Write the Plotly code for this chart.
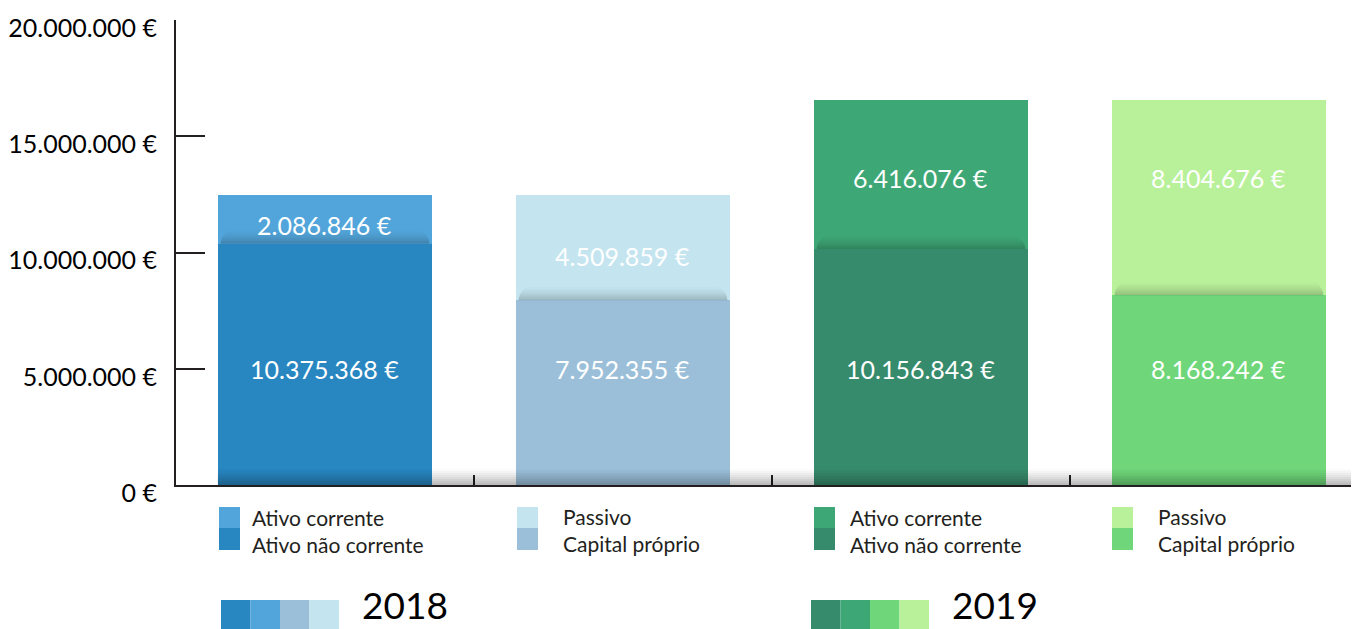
import plotly.graph_objects as go

# ---------------- data ----------------
categories = ["Ativo 2018", "Passivo + Capital 2018", "Ativo 2019", "Passivo + Capital 2019"]
lower_values = [10375368, 7952355, 10156843, 8168242]
upper_values = [2086846, 4509859, 6416076, 8404676]
lower_names = ["Ativo não corrente", "Capital próprio", "Ativo não corrente", "Capital próprio"]
upper_names = ["Ativo corrente", "Passivo", "Ativo corrente", "Passivo"]
years = ["2018", "2019"]
y_ticks = [0, 5000000, 10000000, 15000000, 20000000]

# ---------------- style ----------------
lower_colors = ["#2886c1", "#9bbfd9", "#378b6d", "#6fd77a"]
upper_colors = ["#52a5da", "#c4e5ef", "#3ea776", "#b9f19b"]
year_block_colors = [["#2886c1", "#52a5da", "#9bbfd9", "#c4e5ef"],
                     ["#378b6d", "#3ea776", "#6fd77a", "#b9f19b"]]
upper_label_y = [11180000, 9850000, 13200000, 13200000]
lower_label_y = [5000000] * 4
FONT = "Lato"
TXT = "#231f20"

OFF = 8  # page body margin
W, H = 1359 - OFF, 629 - OFF
L, R, T, B = 176 - OFF, 0, 20 - OFF, 144
PW, PH = W - L - R, H - T - B
XR = [-0.5, 3.47]
YMAX = 20000000


def fmt(v):
    return f"{v:,.0f}".replace(",", ".") + " €"


def px(xp):
    return (xp - 176) / PW


def py(yp):
    return (485 - yp) / PH


x = list(range(len(categories)))
BW = 0.72

fig = go.Figure()
fig.add_trace(go.Bar(x=x, y=lower_values, marker=dict(color=lower_colors, line=dict(width=0)),
                     width=BW, hoverinfo="skip", name="lower"))
fig.add_trace(go.Bar(x=x, y=upper_values, marker=dict(color=upper_colors, line=dict(width=0)),
                     width=BW, hoverinfo="skip", name="upper"))

shapes = []
annotations = []

# soft shadow above segment boundary
units_per_px = YMAX / PH
nsteps = 10
for i, b in enumerate(lower_values):
    for k in range(nsteps):
        y0 = b + k * 1.5 * units_per_px
        y1 = b + (k + 1) * 1.5 * units_per_px
        op = 0.2 * (1 - k / nsteps) ** 1.8
        inset = 0.04 * (k / nsteps) ** 2
        shapes.append(dict(type="rect", xref="x", yref="y", x0=i - BW / 2 + 0.01 + inset,
                           x1=i + BW / 2 - 0.01 - inset,
                           y0=y0, y1=y1, fillcolor="black", opacity=op, line=dict(width=0), layer="above"))

# bottom gray band
for k in range(8):
    y0 = k * 2 * units_per_px
    y1 = (k + 1) * 2 * units_per_px
    op = 0.26 * (1 - k / 8) ** 1.3
    shapes.append(dict(type="rect", xref="x", yref="y", x0=-BW / 2, x1=XR[1],
                       y0=y0, y1=y1, fillcolor="black", opacity=op, line=dict(width=0), layer="above"))

# value labels
for i in range(len(categories)):
    annotations.append(dict(x=i, y=lower_label_y[i], xref="x", yref="y", text=fmt(lower_values[i]),
                            showarrow=False, font=dict(family=FONT, size=25, color="white")))
    annotations.append(dict(x=i, y=upper_label_y[i], xref="x", yref="y", text=fmt(upper_values[i]),
                            showarrow=False, font=dict(family=FONT, size=25, color="white")))

# per-bar legends
bar_left_px = [217, 515, 812, 1110]
text_left_px = [250, 561, 848, 1156]
legend_text_y = [531, 530, 531, 530]
for i in range(len(categories)):
    xl = bar_left_px[i] + 2
    shapes.append(dict(type="rect", xref="paper", yref="paper", x0=px(xl), x1=px(xl + 21),
                       y0=py(528), y1=py(507), fillcolor=upper_colors[i], line=dict(width=0)))
    shapes.append(dict(type="rect", xref="paper", yref="paper", x0=px(xl), x1=px(xl + 21),
                       y0=py(550), y1=py(528), fillcolor=lower_colors[i], line=dict(width=0)))
    annotations.append(dict(x=px(text_left_px[i]), y=py(legend_text_y[i]), xref="paper", yref="paper",
                            xanchor="left", yanchor="middle", align="left",
                            text=upper_names[i] + "<br>" + lower_names[i], showarrow=False,
                            font=dict(family=FONT, size=21, color=TXT)))

# year legends
year_block_left = [221, 811]
year_text_left = [360, 950]
for j, yr in enumerate(years):
    for k, c in enumerate(year_block_colors[j]):
        x0 = year_block_left[j] + k * 29.5
        shapes.append(dict(type="rect", xref="paper", yref="paper", x0=px(x0), x1=px(x0 + 29.5),
                           y0=py(640), y1=py(600), fillcolor=c, line=dict(width=0)))
    annotations.append(dict(x=px(year_text_left[j]), y=py(604), xref="paper", yref="paper",
                            xanchor="left", yanchor="middle", text=yr, showarrow=False,
                            font=dict(family=FONT, size=37, color="black")))

fig.update_layout(
    width=W, height=H,
    margin=dict(l=L, r=R, t=T, b=B, pad=0, autoexpand=False),
    barmode="stack",
    bargap=0,
    showlegend=False,
    plot_bgcolor="white",
    paper_bgcolor="white",
    shapes=shapes,
    annotations=annotations,
    xaxis=dict(range=XR, tickvals=[0.5, 1.5, 2.5], ticks="inside", ticklen=10, tickwidth=2,
               tickcolor=TXT, showticklabels=False, showgrid=False, zeroline=False,
               showline=True, linecolor=TXT, linewidth=2, fixedrange=True, automargin=False),
    yaxis=dict(range=[0, YMAX * 1.0004], tickvals=y_ticks, ticktext=[fmt(v) for v in y_ticks],
               ticks="inside", ticklen=29, tickwidth=2, tickcolor=TXT, showgrid=False,
               zeroline=False, showline=True, linecolor=TXT, linewidth=2,
               tickfont=dict(family=FONT, size=25, color="black"), ticklabelstandoff=12,
               ticklabelshift=8, ticklabeloverflow="allow", automargin=False, fixedrange=True),
)

fig.write_html("out.html", config={"displayModeBar": False})
